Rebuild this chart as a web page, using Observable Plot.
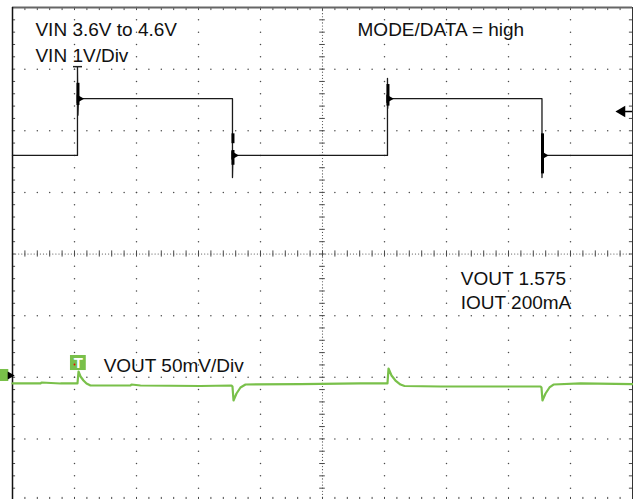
<!DOCTYPE html>
<html>
<head>
<meta charset="utf-8">
<script src="https://cdn.jsdelivr.net/npm/d3@7"></script>
<script src="https://cdn.jsdelivr.net/npm/@observablehq/plot@0.6"></script>
<style>
  html, body { margin: 0; padding: 0; background: #fff; }
  #chart svg { display: block; }
</style>
</head>
<body>
<div id="chart"></div>
<script>
// Positions are in scope divisions: x 0..10 (time), y -4..4 (centre = 0)
// CH1 VIN trace (black)
const vinT = [0, 1.048, 1.048, 1.056, 1.064, 3.548, 3.548, 3.556, 3.564, 6.048, 6.048, 6.052, 6.06, 8.54, 8.54, 8.548, 8.556, 10];
const vinV = [1.6, 1.6, 3.04, 2.25, 2.52, 2.52, 1.24, 1.6, 1.6, 1.6, 2.85, 2.36, 2.52, 2.52, 1.24, 1.6, 1.6, 1.6];
// edge ringing (thick parts)
const ringT  = [1.056, 3.556, 3.556, 6.056, 8.548];
const ringY1 = [2.77, 1.95, 1.68, 2.75, 1.95];
const ringY2 = [2.41, 1.79, 1.44, 2.40, 1.30];
// edge arrow heads
const headT = [1.075, 3.57, 6.07, 8.565];
const headV = [2.52, 1.6, 2.52, 1.6];

// CH2 VOUT trace (green)
const voutT = [0, 0.452, 0.468, 0.774, 1.032, 1.048, 1.065, 1.097, 1.145, 1.194, 1.258, 1.903, 1.919, 2.065, 3.032, 3.532, 3.548, 3.565, 3.613, 3.677, 3.758, 4.645, 5.613, 6.032, 6.048, 6.065, 6.113, 6.177, 6.258, 6.323, 6.903, 7.387, 8.516, 8.532, 8.548, 8.597, 8.661, 8.726, 9.161, 10];
const voutV = [-2.101, -2.101, -2.085, -2.101, -2.101, -2.101, -1.907, -1.988, -2.053, -2.101, -2.134, -2.134, -2.118, -2.134, -2.142, -2.134, -2.150, -2.377, -2.264, -2.166, -2.118, -2.110, -2.101, -2.101, -2.101, -1.858, -1.972, -2.053, -2.118, -2.142, -2.150, -2.150, -2.150, -2.166, -2.377, -2.264, -2.166, -2.118, -2.101, -2.110];

// annotations
const labelText = ["VIN 3.6V to 4.6V", "VIN 1V/Div", "MODE/DATA = high", "VOUT 1.575", "IOUT 200mA", "VOUT 50mV/Div"];
const labelX = [0.37, 0.37, 5.565, 7.23, 7.23, 1.47];
const labelY = [3.53, 3.11, 3.53, -0.51, -0.90, -1.91];

// grid
const gridX = [1, 2, 3, 4, 6, 7, 8, 9];
const gridY = [-3, -2, -1, 1, 2, 3];
const minorX = d3.range(0, 51).map(i => i / 5);
const minorY = d3.range(0, 41).map(i => -4 + i / 5);

const vin = vinT.map((t, i) => ({t, v: vinV[i]}));
const vout = voutT.map((t, i) => ({t, v: voutV[i]}));
const rings = ringT.map((t, i) => ({t, y1: ringY1[i], y2: ringY2[i]}));
const heads = headT.map((t, i) => ({t, v: headV[i]}));
const labels = labelText.map((s, i) => ({s, x: labelX[i], y: labelY[i]}));

const gridDots = [];
for (const gx of gridX) for (const my of minorY) gridDots.push({x: gx, y: my});
for (const gy of gridY) for (const mx of minorX) gridDots.push({x: mx, y: gy});
const centreDashV = d3.range(0, 161).map(i => ({x: 5, y: -4 + i / 20}));
const centreDashH = d3.range(0, 201).map(i => ({x: i / 20, y: 0}));

const gridColor = "#4a4a4a";
const green = "#79c04a";

const chart = Plot.plot({
  width: 633,
  height: 499,
  margin: 0,
  x: {domain: [0, 10], range: [12, 632], axis: null},
  y: {domain: [-4, 4], range: [500, 7], axis: null},
  style: {background: "#fff", fontFamily: "'Liberation Sans', Arial, sans-serif"},
  marks: [
    // dotted grid
    Plot.dot(gridDots, {x: "x", y: "y", r: 0.75, fill: gridColor, stroke: null}),
    // centre lines (dense dotted with minor ticks)
    Plot.dot(centreDashV, {x: "x", y: "y", r: 0.6, fill: gridColor, stroke: null}),
    Plot.dot(centreDashH, {x: "x", y: "y", r: 0.6, fill: gridColor, stroke: null}),
    Plot.ruleY(minorY, {y: d => d, x1: 4.955, x2: 5.045, stroke: gridColor, strokeWidth: 1}),
    Plot.ruleX(minorX, {x: d => d, y1: -0.05, y2: 0.05, stroke: gridColor, strokeWidth: 1}),
    // edge ticks
    Plot.ruleY(minorY, {y: d => d, x1: 0, x2: 0.05, stroke: gridColor, strokeWidth: 1}),
    Plot.ruleY(minorY, {y: d => d, x1: 9.95, x2: 10, stroke: gridColor, strokeWidth: 1}),
    Plot.ruleX(minorX, {x: d => d, y1: 4, y2: 3.95, stroke: gridColor, strokeWidth: 1}),
    Plot.ruleX(minorX, {x: d => d, y1: -4, y2: -3.95, stroke: gridColor, strokeWidth: 1}),
    // frame
    Plot.ruleY([4], {x1: 0, x2: 10, stroke: "#666", strokeWidth: 2}),
    Plot.ruleX([0], {y1: -4, y2: 4, stroke: "#111", strokeWidth: 1.5}),
    Plot.ruleX([10], {y1: -4, y2: 4, stroke: "#333", strokeWidth: 1}),
    // VIN trace
    Plot.line(vin, {x: "t", y: "v", stroke: "#1a1a1a", strokeWidth: 1.3}),
    Plot.ruleX(rings, {x: "t", y1: "y1", y2: "y2", stroke: "#000", strokeWidth: 3}),
    Plot.dot(heads, {x: "t", y: "v", symbol: "triangle", rotate: 90, r: 3.2, fill: "#000", stroke: null}),
    // trigger marker on top of VIN edge
    Plot.ruleY([3.04], {x1: 0.984, x2: 1.129, stroke: "#222", strokeWidth: 1.5}),
    // trigger level marker at right
    Plot.ruleY([2.312], {x1: 9.86, x2: 10, stroke: "#000", strokeWidth: 1.5}),
    Plot.dot([2.312], {x: 9.83, y: d => d, symbol: "triangle", rotate: -90, r: 4.2, fill: "#000", stroke: null}),
    // VOUT trace
    Plot.line(vout, {x: "t", y: "v", stroke: green, strokeWidth: 2.2}),
    // CH2 marker at left
    Plot.rect([0], {x1: -0.195, x2: -0.06, y1: -1.874, y2: -2.069, fill: green}),
    Plot.dot([-1.972], {x: -0.04, y: d => d, symbol: "triangle", rotate: 90, r: 3, fill: "#000", stroke: null}),
    // green T box
    Plot.rect([0], {x1: 0.935, x2: 1.19, y1: -1.647, y2: -1.891, fill: green}),
    Plot.text(["T"], {x: 1.062, y: -1.77, text: d => d, fill: "#fff", fontSize: 15, fontWeight: "bold", lineAnchor: "middle", textAnchor: "middle"}),
    Plot.dot([-1.793], {x: 1.0, y: d => d, r: 0.9, fill: "#e00", stroke: null}),
    // labels
    Plot.text(labels, {x: "x", y: "y", text: "s", textAnchor: "start", lineAnchor: "bottom", fontSize: 19, fill: "#111"})
  ]
});
document.getElementById("chart").appendChild(chart);
</script>
</body>
</html>
